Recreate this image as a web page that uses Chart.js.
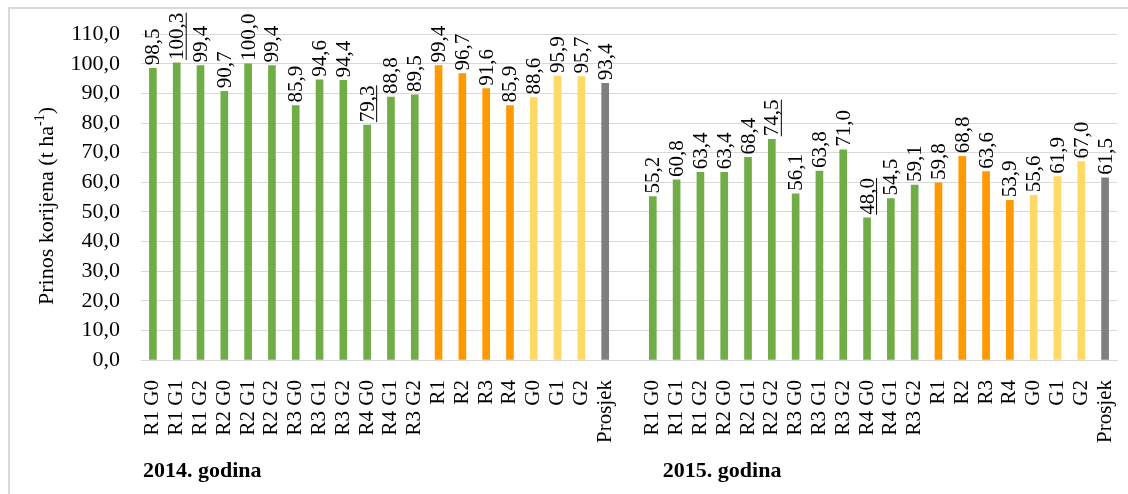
<!DOCTYPE html>
<html>
<head>
<meta charset="utf-8">
<script src="https://cdn.jsdelivr.net/npm/chart.js@4"></script>
<style>
  body { margin: 0; background: #fff; }
  #wrap { position: relative; width: 1128px; height: 494px; }
  #frame { position: absolute; left: 8px; top: 7px; width: 1130px; height: 500px;
           border-left: 2px solid #d9d9d9; border-top: 2px solid #d9d9d9; }
</style>
</head>
<body>
<div id="wrap">
  <canvas id="yieldChart" width="1128" height="494"></canvas>
  <div id="frame"></div>
</div>
<script>
  const categories = ['R1 G0', 'R1 G1', 'R1 G2', 'R2 G0', 'R2 G1', 'R2 G2', 'R3 G0', 'R3 G1', 'R3 G2',
                      'R4 G0', 'R4 G1', 'R3 G2', 'R1', 'R2', 'R3', 'R4', 'G0', 'G1', 'G2', 'Prosjek'];
  const yield2014 = [98.5, 100.3, 99.4, 90.7, 100.0, 99.4, 85.9, 94.6, 94.4, 79.3, 88.8, 89.5,
                     99.4, 96.7, 91.6, 85.9, 88.6, 95.9, 95.7, 93.4];
  const yield2015 = [55.2, 60.8, 63.4, 63.4, 68.4, 74.5, 56.1, 63.8, 71.0, 48.0, 54.5, 59.1,
                     59.8, 68.8, 63.6, 53.9, 55.6, 61.9, 67.0, 61.5];
  const yearLabels = ['2014. godina', '2015. godina'];
  const yTicks = [0, 10, 20, 30, 40, 50, 60, 70, 80, 90, 100, 110];

  // one empty slot between the two years
  const labels = [...categories, '', ...categories];
  const values = [...yield2014, null, ...yield2015];

  function barColor(label) {
    if (label === 'Prosjek') return '#7f7f7f';
    if (label.includes(' ')) return '#70ad47';
    if (label.startsWith('R')) return '#ff9900';
    return '#ffd966';
  }
  const colors = labels.map(barColor);

  // max / min of the 12 treatment combinations per year get underlined
  function extremes(arr, offset) {
    const part = arr.slice(0, 12);
    return [offset + part.indexOf(Math.max(...part)), offset + part.indexOf(Math.min(...part))];
  }
  const underlined = [...extremes(yield2014, 0), ...extremes(yield2015, 21)];

  const fmt = v => v.toFixed(1).replace('.', ',');
  const serif = '"Liberation Serif", "Times New Roman", serif';

  const extras = {
    id: 'extras',
    afterDatasetsDraw(chart) {
      const ctx = chart.ctx;
      const meta = chart.getDatasetMeta(0);
      ctx.save();
      ctx.font = '21px ' + serif;
      ctx.fillStyle = '#000';
      ctx.textBaseline = 'middle';
      ctx.textAlign = 'left';
      meta.data.forEach((bar, i) => {
        const v = values[i];
        if (v === null) return;
        const txt = fmt(v);
        ctx.save();
        ctx.translate(bar.x, bar.y - 3);
        ctx.rotate(-Math.PI / 2);
        ctx.fillText(txt, 0, 1);
        if (underlined.includes(i)) {
          const w = ctx.measureText(txt).width;
          ctx.strokeStyle = '#000';
          ctx.lineWidth = 1;
          ctx.beginPath();
          ctx.moveTo(0, 9.5);
          ctx.lineTo(w, 9.5);
          ctx.stroke();
        }
        ctx.restore();
      });

      // axis title with superscript
      ctx.save();
      ctx.translate(47, 206);
      ctx.rotate(-Math.PI / 2);
      const main = 'Prinos korijena (t ha';
      ctx.font = '22px ' + serif;
      const w1 = ctx.measureText(main).width;
      ctx.font = '14px ' + serif;
      const w2 = ctx.measureText('-1').width;
      ctx.font = '22px ' + serif;
      const w3 = ctx.measureText(')').width;
      let x = -(w1 + w2 + w3) / 2;
      ctx.fillText(main, x, 0);
      x += w1;
      ctx.font = '14px ' + serif;
      ctx.fillText('-1', x, -7);
      x += w2;
      ctx.font = '22px ' + serif;
      ctx.fillText(')', x, 0);
      ctx.restore();

      // year captions
      const xs = chart.scales.x;
      ctx.font = 'bold 22px ' + serif;
      ctx.textBaseline = 'alphabetic';
      ctx.fillText(yearLabels[0], xs.getPixelForValue(0) - 10, 477);
      ctx.fillText(yearLabels[1], xs.getPixelForValue(21) + 10, 477);
      ctx.restore();
    }
  };

  new Chart(document.getElementById('yieldChart'), {
    type: 'bar',
    data: {
      labels: labels,
      datasets: [{
        data: values,
        backgroundColor: colors,
        barThickness: 7
      }]
    },
    options: {
      responsive: false,
      animation: false,
      layout: { padding: { top: 32, right: 11, left: 0, bottom: 0 } },
      plugins: { legend: { display: false }, tooltip: { enabled: false } },
      scales: {
        x: {
          afterFit: s => { s.height = 134; s.paddingLeft = 0; s.paddingRight = 0; },
          grid: { display: false },
          border: { color: '#d9d9d9', width: 1 },
          ticks: {
            autoSkip: false, minRotation: 90, maxRotation: 90, padding: 12,
            color: '#000', font: { family: serif, size: 21 }
          }
        },
        y: {
          min: 0, max: 110,
          afterFit: s => { s.width = 141; },
          afterBuildTicks: s => { s.ticks = yTicks.map(v => ({ value: v })); },
          grid: { color: '#d9d9d9', drawTicks: false },
          border: { display: false },
          ticks: {
            padding: 21, color: '#000', font: { family: serif, size: 22 },
            callback: v => fmt(v)
          }
        }
      }
    },
    plugins: [extras]
  });
</script>
</body>
</html>
